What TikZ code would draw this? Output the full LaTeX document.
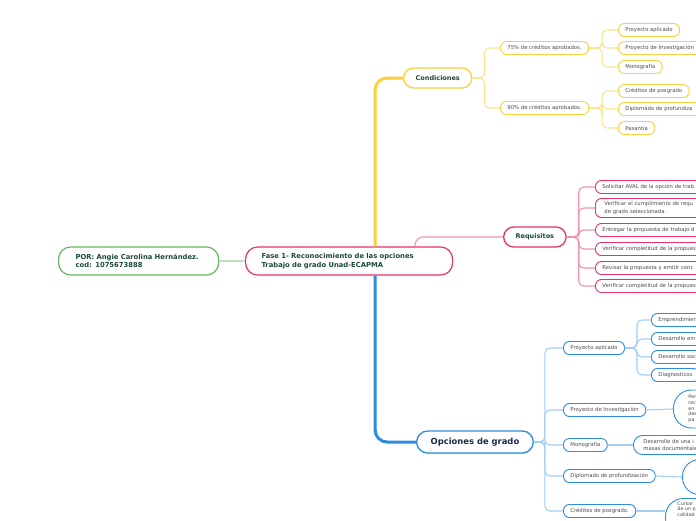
\documentclass[tikz,border=0pt]{standalone}
\usepackage{fontspec}
\setmainfont{DejaVu Sans}
\usetikzlibrary{shadows}

\definecolor{amarillo}{HTML}{FBD03A}
\definecolor{amarilloclaro}{HTML}{FDE48C}
\definecolor{rosa}{HTML}{E8306A}
\definecolor{rosaclaro}{HTML}{F492B3}
\definecolor{azul}{HTML}{2B8CE0}
\definecolor{azulclaro}{HTML}{A3CFF4}
\definecolor{verde}{HTML}{62B95F}
\definecolor{verdeclaro}{HTML}{BFE2BB}
\definecolor{verdeoscuro}{HTML}{1C4A3A}
\definecolor{marino}{HTML}{1B2A4A}
\definecolor{gris}{HTML}{4A4A4A}

\begin{document}
\begin{tikzpicture}[x=1pt,y=-1pt,
		caja/.style={draw, fill=white, rounded corners=6pt, anchor=west, minimum height=13pt, inner xsep=7pt, inner ysep=1pt, line width=0.9pt, text=gris, font=\fontsize{5.3}{7.5}\selectfont},
		larga/.style={caja, text width=120pt, align=left},
		burbuja/.style={caja, align=left, font=\fontsize{4.8}{5.7}\selectfont},
		nivel/.style={draw, fill=white, rounded corners=10pt, anchor=west, minimum height=20pt, inner xsep=12pt, line width=1.3pt, text=verdeoscuro, font=\fontsize{6.5}{8}\selectfont\bfseries},
		central/.style={draw, fill=white, rounded corners=12pt, anchor=west, minimum height=28pt, inner xsep=16pt, line width=1.2pt, align=left, text=verdeoscuro, font=\fontsize{6.8}{8.6}\selectfont\bfseries},
		ramaA/.style={amarilloclaro, line width=1.1pt, rounded corners=5pt},
		ramaR/.style={rosaclaro, line width=1.1pt, rounded corners=5pt},
		ramaB/.style={azulclaro, line width=1.1pt, rounded corners=5pt}]
	\useasboundingbox (0,0) rectangle (696,520);
	\clip (0,0) rectangle (696,520);
	\fill[white] (0,0) rectangle (696,520);

	% centro y autora
	\node[central, draw=verde, text width=126pt, inner xsep=17pt] (autora) at (58,261) {POR: Angie Carolina Hernández.\\cod: 1075673888};
	\node[central, draw=rosa, text width=175pt] (fase) at (245,261) {Fase 1- Reconocimiento de las opciones\\Trabajo de grado Unad-ECAPMA};
	\draw[verdeclaro, line width=1.2pt] (autora) -- (fase);

	% condiciones
	\node[nivel, draw=amarillo] (cond) at (403,78) {Condiciones};
	\node[caja, draw=amarillo] (c75) at (500,48) {75\% de créditos aprobados.};
	\node[caja, draw=amarillo] (c90) at (500,108) {90\% de créditos aprobados.};
	\node[caja, draw=amarillo] (apl1) at (618,30) {Proyecto aplicado};
	\node[caja, draw=amarillo, text width=80pt, align=left] (inv1) at (618,48) {Proyecto de Investigación};
	\node[caja, draw=amarillo] (mono1) at (618,67) {Monografía};
	\node[caja, draw=amarillo] (pos1) at (618,91) {Créditos de posgrado};
	\node[caja, draw=amarillo, text width=80pt, align=left] (dip1) at (618,109) {Diplomado de profundiza};
	\node[caja, draw=amarillo] (pas1) at (618,128) {Pasantía};
	\draw[amarillo, line width=3pt, rounded corners=12pt] ([xshift=26pt]fase.north) |- (cond.west);
	\foreach \h in {c75,c90}
		\draw[ramaA] (cond.east) -- ++(12,0) |- (\h.west);
	\foreach \h in {apl1,inv1,mono1}
		\draw[ramaA] (c75.east) -- ++(13,0) |- (\h.west);
	\foreach \h in {pos1,dip1,pas1}
		\draw[ramaA] (c90.east) -- ++(13,0) |- (\h.west);

	% requisitos
	\node[nivel, draw=rosa] (req) at (503,237) {Requisitos};
	\node[larga, draw=rosa] (r1) at (595,187) {Solicitar AVAL de la opción de trab};
	\node[larga, draw=rosa, minimum height=19pt, inner xsep=9pt] (r2) at (595,208) {Verificar el cumplimiento de requ\\de grado seleccionada.};
	\node[larga, draw=rosa] (r3) at (595,230) {Entregar la propuesta de trabajo d};
	\node[larga, draw=rosa] (r4) at (595,249) {Verificar completitud de la propues};
	\node[larga, draw=rosa] (r5) at (595,268) {Revisar la propuesta y emitir conc};
	\node[larga, draw=rosa] (r6) at (595,286) {Verificar completitud de la propues};
	\draw[rosaclaro, line width=1.1pt, rounded corners=8pt] ([xshift=66pt]fase.north) |- (req.west);
	\foreach \h in {r1,r2,r3,r4,r5,r6}
		\draw[ramaR] (req.east) -- ++(12,0) |- (\h.west);

	% opciones de grado
	\node[nivel, draw=azul, text=marino, minimum height=22pt, inner xsep=14pt, rounded corners=11pt, font=\fontsize{8.4}{10}\selectfont\bfseries, drop shadow={opacity=0.25, shadow xshift=0.4pt, shadow yshift=-1pt}] (opc) at (416,442) {Opciones de grado};
	\node[caja, draw=azul] (apl) at (563,348) {Proyecto aplicado};
	\node[caja, draw=azul] (inv) at (563,410) {Proyecto de Investigación};
	\node[caja, draw=azul] (mono) at (563,445) {Monografía};
	\node[caja, draw=azul] (dip) at (563,476) {Diplomado de profundización};
	\node[caja, draw=azul] (pos) at (563,511) {Créditos de posgrado.};
	\node[caja, draw=azul, text width=60pt, align=left] (emp) at (651,320) {Emprendimien};
	\node[caja, draw=azul, text width=60pt, align=left] (dem) at (651,339) {Desarrollo em};
	\node[caja, draw=azul, text width=60pt, align=left] (dsoc) at (651,357) {Desarrollo soc};
	\node[caja, draw=azul] (diag) at (651,375) {Diagnosticos};
	\node[burbuja, draw=azul, rounded corners=18pt, minimum height=38pt, text width=40pt, inner xsep=15pt] (per) at (673,409) {Per\\rec\\en\\des\\pa};
	\node[caja, draw=azul, rounded corners=9pt, minimum height=19pt, text width=60pt, align=left, inner xsep=10pt, font=\fontsize{5.3}{6.8}\selectfont] (des) at (633,445) {Desarrollo de una i\\masas documentale};
	\node[caja, draw=azul, rounded corners=17pt, minimum height=35pt, minimum width=40pt] (circ) at (682,477) {};
	\node[burbuja, draw=azul, rounded corners=18pt, anchor=north west, text width=40pt, inner xsep=12pt, inner ysep=3pt, text depth=28pt] (cur) at (665,498) {Cursar\\de un p\\calidad};
	\draw[azul, line width=3pt, rounded corners=12pt] ([xshift=26pt]fase.south) |- (opc.west);
	\foreach \h in {apl,inv,mono,dip,pos}
		\draw[ramaB] (opc.east) -- ++(11,0) |- (\h.west);
	\foreach \h in {emp,dem,dsoc,diag}
		\draw[ramaB] (apl.east) -- ++(12,0) |- (\h.west);
	\draw[ramaB] (inv.east) -- (per.west);
	\draw[ramaB] (mono.east) -- (des.west);
	\draw[ramaB] (dip.east) -- (circ.west);
	\draw[ramaB] (pos.east) -- (pos.east -| cur.west);
\end{tikzpicture}
\end{document}
